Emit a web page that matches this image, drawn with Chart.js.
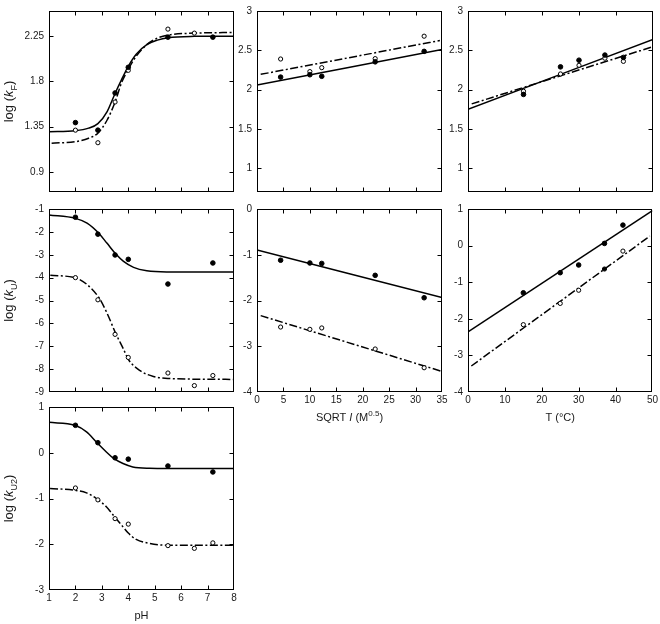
<!DOCTYPE html>
<html><head><meta charset="utf-8">
<script src="https://cdn.jsdelivr.net/npm/chart.js@4.4.1/dist/chart.umd.min.js"></script>
<style>
body{margin:0;background:#fff;width:660px;height:624px;position:relative;overflow:hidden}
canvas{position:absolute;left:0;top:0}
</style></head><body>
<script>
// ---------------- DATA ----------------
// x categories
const pHPoints   = [2, 2.85, 3.5, 4, 5.5, 6.5, 7.2];
const sqrtIPoints = [4.47, 10, 12.25, 22.36, 31.62];
const tempPoints  = [15, 25, 30, 37, 42];

// Panel 1: log(kF) vs pH
const kF_pH_filled = [1.39, 1.315, 1.685, 1.94, 2.24, null, 2.24];
const kF_pH_open   = [1.315, 1.19, 1.595, 1.91, 2.32, 2.28, null];
const kF_pH_fitSolid_x = [1, 2, 2.5, 2.85, 3.2, 3.5, 3.75, 4, 4.3, 4.7, 5.1, 5.5, 6.5, 8];
const kF_pH_fitSolid_y = [1.30, 1.31, 1.335, 1.38, 1.50, 1.68, 1.82, 1.95, 2.07, 2.165, 2.21, 2.235, 2.248, 2.25];
const kF_pH_fitDash_x  = [1.1, 2, 2.5, 2.85, 3.2, 3.5, 3.75, 4, 4.3, 4.7, 5.1, 5.5, 6.5, 8];
const kF_pH_fitDash_y  = [1.186, 1.20, 1.235, 1.285, 1.416, 1.595, 1.79, 1.92, 2.05, 2.165, 2.23, 2.26, 2.28, 2.286];

// Panel 2: log(kF) vs SQRT I
const kF_I_filled = [2.16, 2.19, 2.17, 2.354, 2.487];
const kF_I_open   = [2.39, 2.23, 2.28, 2.395, 2.68];
const kF_I_fitSolid_x = [0, 35];
const kF_I_fitSolid_y = [2.06, 2.51];
const kF_I_fitDash_x  = [0.7, 34.6];
const kF_I_fitDash_y  = [2.195, 2.625];

// Panel 3: log(kF) vs T
const kF_T_filled = [1.94, 2.29, 2.375, 2.44, 2.41];
const kF_T_open   = [1.98, 2.20, 2.31, 2.40, 2.36];
const kF_T_fitSolid_x = [0, 50];
const kF_T_fitSolid_y = [1.75, 2.64];
const kF_T_fitDash_x  = [1, 49.5];
const kF_T_fitDash_y  = [1.82, 2.54];

// Panel 4: log(kU) vs pH
const kU_pH_filled = [-1.36, -2.10, -3.01, -3.20, -4.28, null, -3.36];
const kU_pH_open   = [-4.0, -4.97, -6.48, -7.49, -8.17, -8.72, -8.28];
const kU_pH_fitSolid_x = [1, 2, 2.44, 2.89, 3.19, 3.53, 3.82, 4.2, 4.7, 5.45, 8];
const kU_pH_fitSolid_y = [-1.26, -1.41, -1.62, -2.07, -2.49, -2.97, -3.29, -3.55, -3.70, -3.75, -3.75];
const kU_pH_fitDash_x  = [1.05, 2, 2.44, 2.89, 3.19, 3.53, 3.82, 4.0, 4.45, 4.95, 5.5, 8];
const kU_pH_fitDash_y  = [-3.90, -4.01, -4.30, -4.88, -5.54, -6.45, -7.13, -7.57, -8.07, -8.32, -8.41, -8.45];

// Panel 5: log(kU) vs SQRT I
const kU_I_filled = [-1.12, -1.18, -1.19, -1.45, -1.94];
const kU_I_open   = [-2.58, -2.63, -2.60, -3.06, -3.47];
const kU_I_fitSolid_x = [0, 35];
const kU_I_fitSolid_y = [-0.895, -1.935];
const kU_I_fitDash_x  = [0.7, 34.7];
const kU_I_fitDash_y  = [-2.33, -3.54];

// Panel 6: log(kU) vs T
const kU_T_filled = [-1.29, -0.74, -0.53, 0.06, 0.56];
const kU_T_open   = [-2.16, -1.58, -1.22, -0.64, -0.15];
const kU_T_fitSolid_x = [0, 50];
const kU_T_fitSolid_y = [-2.36, 0.956];
const kU_T_fitDash_x  = [0.9, 49.3];
const kU_T_fitDash_y  = [-3.29, 0.26];

// Panel 7: log(kU2) vs pH
const kU2_pH_filled = [0.60, 0.22, -0.11, -0.14, -0.29, null, -0.42];
const kU2_pH_open   = [-0.77, -1.03, -1.44, -1.56, -2.03, -2.09, -1.97];
const kU2_pH_fitSolid_x = [1, 1.98, 2.42, 2.79, 3.17, 3.46, 3.80, 4.17, 4.80, 5.5, 8];
const kU2_pH_fitSolid_y = [0.665, 0.60, 0.455, 0.236, 0.018, -0.13, -0.236, -0.31, -0.34, -0.345, -0.345];
const kU2_pH_fitDash_x  = [1.04, 1.98, 2.42, 2.79, 3.17, 3.46, 3.80, 3.99, 4.30, 4.80, 5.47, 8];
const kU2_pH_fitDash_y  = [-0.78, -0.82, -0.876, -1.0, -1.18, -1.385, -1.62, -1.75, -1.895, -1.98, -2.02, -2.02];

// tick labels
const pHTicks    = [1, 2, 3, 4, 5, 6, 7, 8];
const sqrtITicks = [0, 5, 10, 15, 20, 25, 30, 35];
const tempTicks  = [0, 10, 20, 30, 40, 50];
const kFTicksPH  = [0.9, 1.35, 1.8, 2.25];
const kFTicks    = [1, 1.5, 2, 2.5, 3];
const kUTicksPH  = [-9, -8, -7, -6, -5, -4, -3, -2, -1];
const kUTicksI   = [-4, -3, -2, -1, 0];
const kUTicksT   = [-4, -3, -2, -1, 0, 1];
const kU2Ticks   = [-3, -2, -1, 0, 1];

// ---------------- RENDER ----------------
const FONT = '"Liberation Sans", Arial, Helvetica, sans-serif';
Chart.defaults.font.family = FONT;
Chart.defaults.font.size = 10;
Chart.defaults.color = '#1a1a1a';

const colX = [[49, 234], [257, 442], [468, 653]];
const rowY = [[8, 192], [209, 392], [407, 590]];
const DASH = [8, 2.5, 2, 2.5];

function drawRich(ctx, parts, size, x, y, rot) {
  ctx.save();
  ctx.translate(x, y);
  if (rot) ctx.rotate(-Math.PI / 2);
  const fontFor = p => (p.i ? 'italic ' : '') + ((p.sub || p.sup) ? Math.round(size * 0.72) : size) + 'px ' + FONT;
  let w = 0;
  parts.forEach(p => { ctx.font = fontFor(p); w += ctx.measureText(p.t).width; });
  let cx = -w / 2;
  ctx.fillStyle = '#1a1a1a';
  ctx.textBaseline = 'alphabetic';
  parts.forEach(p => {
    ctx.font = fontFor(p);
    const dy = p.sub ? size * 0.32 : (p.sup ? -size * 0.42 : 0);
    ctx.fillText(p.t, cx, dy);
    cx += ctx.measureText(p.t).width;
  });
  ctx.restore();
}

const fmt = v => String(+Number(v).toFixed(3));

function makePanel(p) {
  const c = document.createElement('canvas');
  c.width = 660; c.height = 624;
  document.body.appendChild(c);
  const [L, R] = colX[p.col];
  const [T, B] = rowY[p.row];
  const YW = 40, XH = 20;
  const datasets = [];
  p.pts.forEach(s => {
    const data = [], bg = [];
    s.x.forEach((x, i) => {
      if (s.y[i] == null) return;
      data.push({ x: x, y: s.y[i] });
      bg.push(s.fill || (s.filledIdx && s.filledIdx.includes(i)) ? '#000' : '#fff');
    });
    datasets.push({
      data: data, showLine: false,
      pointRadius: s.fill ? 2.3 : 2.1, pointBorderWidth: 1,
      pointBorderColor: '#000', pointBackgroundColor: bg
    });
  });
  p.curves.forEach(cv => {
    datasets.push({
      data: cv.x.map((x, i) => ({ x: x, y: cv.y[i] })),
      showLine: true, pointRadius: 0, borderColor: '#000', borderWidth: 1.5,
      borderDash: cv.dash ? DASH : [], fill: false,
      cubicInterpolationMode: 'monotone'
    });
  });
  const axis = (min, max, ticks, show, isX) => ({
    type: 'linear', min: min, max: max,
    afterBuildTicks: s => { s.ticks = ticks.map(v => ({ value: v })); },
    afterFit: s => { if (isX) s.height = XH; else s.width = YW; },
    grid: { display: false, drawTicks: false },
    border: { display: false },
    ticks: { display: show, padding: isX ? 2 : 5, autoSkip: false, maxRotation: 0, callback: v => fmt(v) }
  });
  const deco = {
    id: 'deco',
    afterDraw(chart) {
      const ctx = chart.ctx, a = chart.chartArea;
      const xs = chart.scales.x, ys = chart.scales.y;
      ctx.save();
      ctx.strokeStyle = '#000';
      ctx.lineWidth = 1;
      const l = Math.round(a.left) + 0.5, r = Math.round(a.right) - 0.5;
      const t = Math.round(a.top) + 0.5, b = Math.round(a.bottom) - 0.5;
      ctx.strokeRect(l, t, r - l, b - t);
      const TL = 4;
      ctx.beginPath();
      xs.ticks.forEach(tk => {
        if (tk.value <= xs.min || tk.value >= xs.max) return;
        const px = Math.round(xs.getPixelForValue(tk.value)) + 0.5;
        ctx.moveTo(px, b); ctx.lineTo(px, b - TL);
        ctx.moveTo(px, t); ctx.lineTo(px, t + TL);
      });
      ys.ticks.forEach(tk => {
        if (tk.value <= ys.min || tk.value >= ys.max) return;
        const py = Math.round(ys.getPixelForValue(tk.value)) + 0.5;
        ctx.moveTo(l, py); ctx.lineTo(l + TL, py);
        ctx.moveTo(r, py); ctx.lineTo(r - TL, py);
      });
      ctx.stroke();
      ctx.restore();
      if (p.ytitle) drawRich(ctx, p.ytitle, 13, 13, (a.top + a.bottom) / 2, true);
      if (p.xtitle) drawRich(ctx, p.xtitle, 11, (a.left + a.right) / 2, a.bottom + 29, false);
    }
  };
  new Chart(c, {
    type: 'scatter',
    data: { datasets: datasets },
    options: {
      responsive: false, animation: false, devicePixelRatio: 1,
      layout: { padding: { left: L - YW, top: T, right: 660 - R, bottom: 624 - B - XH } },
      plugins: { legend: { display: false }, tooltip: { enabled: false } },
      scales: {
        x: axis(p.xmin, p.xmax, p.xticks, p.xlab, true),
        y: axis(p.ymin, p.ymax, p.yticks, true, false)
      }
    },
    plugins: [deco]
  });
}

const ytF  = [{ t: 'log (' }, { t: 'k', i: true }, { t: 'F', sub: true }, { t: ')' }];
const ytU  = [{ t: 'log (' }, { t: 'k', i: true }, { t: 'U', sub: true }, { t: ')' }];
const ytU2 = [{ t: 'log (' }, { t: 'k', i: true }, { t: 'U2', sub: true }, { t: ')' }];
const xtPH = [{ t: 'pH' }];
const xtI  = [{ t: 'SQRT ' }, { t: 'I', i: true }, { t: ' (M' }, { t: '0.5', sup: true }, { t: ')' }];
const xtT  = [{ t: 'T (°C)' }];

const S = (x, y, dash) => ({ x: x, y: y, dash: dash });

makePanel({ row: 0, col: 0, xmin: 1, xmax: 8, xticks: pHTicks, xlab: false, ymin: 0.7, ymax: 2.5, yticks: kFTicksPH, ytitle: ytF,
  pts: [{ x: pHPoints, y: kF_pH_filled, fill: true }, { x: pHPoints, y: kF_pH_open }],
  curves: [S(kF_pH_fitSolid_x, kF_pH_fitSolid_y, false), S(kF_pH_fitDash_x, kF_pH_fitDash_y, true)] });
makePanel({ row: 0, col: 1, xmin: 0, xmax: 35, xticks: sqrtITicks, xlab: false, ymin: 0.7, ymax: 3, yticks: kFTicks,
  pts: [{ x: sqrtIPoints, y: kF_I_filled, fill: true }, { x: sqrtIPoints, y: kF_I_open }],
  curves: [S(kF_I_fitSolid_x, kF_I_fitSolid_y, false), S(kF_I_fitDash_x, kF_I_fitDash_y, true)] });
makePanel({ row: 0, col: 2, xmin: 0, xmax: 50, xticks: tempTicks, xlab: false, ymin: 0.7, ymax: 3, yticks: kFTicks,
  pts: [{ x: tempPoints, y: kF_T_filled, fill: true }, { x: tempPoints, y: kF_T_open }],
  curves: [S(kF_T_fitSolid_x, kF_T_fitSolid_y, false), S(kF_T_fitDash_x, kF_T_fitDash_y, true)] });
makePanel({ row: 1, col: 0, xmin: 1, xmax: 8, xticks: pHTicks, xlab: false, ymin: -9, ymax: -1, yticks: kUTicksPH, ytitle: ytU,
  pts: [{ x: pHPoints, y: kU_pH_filled, fill: true }, { x: pHPoints, y: kU_pH_open }],
  curves: [S(kU_pH_fitSolid_x, kU_pH_fitSolid_y, false), S(kU_pH_fitDash_x, kU_pH_fitDash_y, true)] });
makePanel({ row: 1, col: 1, xmin: 0, xmax: 35, xticks: sqrtITicks, xlab: true, ymin: -4, ymax: 0, yticks: kUTicksI, xtitle: xtI,
  pts: [{ x: sqrtIPoints, y: kU_I_filled, fill: true }, { x: sqrtIPoints, y: kU_I_open }],
  curves: [S(kU_I_fitSolid_x, kU_I_fitSolid_y, false), S(kU_I_fitDash_x, kU_I_fitDash_y, true)] });
makePanel({ row: 1, col: 2, xmin: 0, xmax: 50, xticks: tempTicks, xlab: true, ymin: -4, ymax: 1, yticks: kUTicksT, xtitle: xtT,
  pts: [{ x: tempPoints, y: kU_T_filled, fill: true }, { x: tempPoints, y: kU_T_open, filledIdx: [3] }],
  curves: [S(kU_T_fitSolid_x, kU_T_fitSolid_y, false), S(kU_T_fitDash_x, kU_T_fitDash_y, true)] });
makePanel({ row: 2, col: 0, xmin: 1, xmax: 8, xticks: pHTicks, xlab: true, ymin: -3, ymax: 1, yticks: kU2Ticks, ytitle: ytU2, xtitle: xtPH,
  pts: [{ x: pHPoints, y: kU2_pH_filled, fill: true }, { x: pHPoints, y: kU2_pH_open }],
  curves: [S(kU2_pH_fitSolid_x, kU2_pH_fitSolid_y, false), S(kU2_pH_fitDash_x, kU2_pH_fitDash_y, true)] });
</script>
</body></html>
